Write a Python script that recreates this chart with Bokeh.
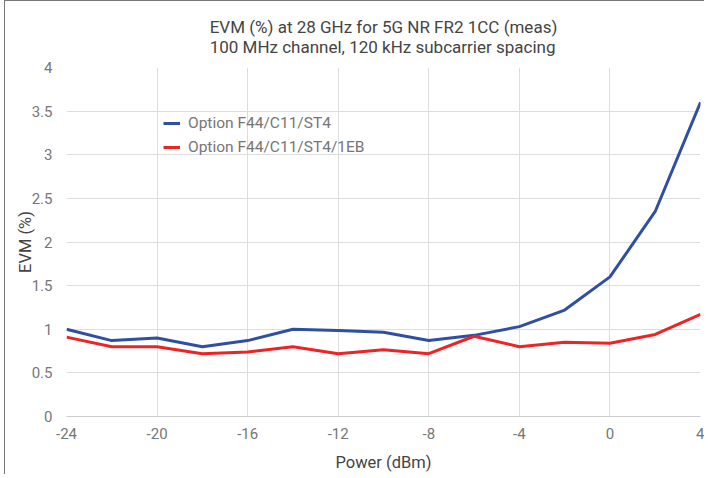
from bokeh.plotting import figure
from bokeh.models import Legend, LegendItem, FixedTicker, Range1d, Title
from bokeh.embed import file_html
from bokeh.resources import INLINE

power = [-24, -22, -20, -18, -16, -14, -12, -10, -8, -6, -4, -2, 0, 2, 4]
evm_st4 = [1.00, 0.87, 0.90, 0.80, 0.87, 1.00, 0.985, 0.965, 0.87, 0.93, 1.03, 1.22, 1.60, 2.35, 3.60]
evm_1eb = [0.91, 0.80, 0.80, 0.72, 0.74, 0.80, 0.72, 0.765, 0.72, 0.92, 0.80, 0.85, 0.84, 0.94, 1.17]
x_ticks = [-24, -20, -16, -12, -8, -4, 0, 4]
y_ticks = [0, 0.5, 1, 1.5, 2, 2.5, 3, 3.5, 4]
series_names = ["Option F44/C11/ST4", "Option F44/C11/ST4/1EB"]
title_lines = ["EVM (%) at 28 GHz for 5G NR FR2 1CC (meas)",
               "100 MHz channel, 120 kHz subcarrier spacing"]

FONT = "Roboto"

p = figure(width=700, height=474, output_backend="svg", toolbar_location=None,
           x_range=Range1d(-24, 4), y_range=Range1d(0, 4),
           min_border_left=61, min_border_right=5, min_border_top=66, min_border_bottom=59,
           styles={"border-left": "1px solid #777", "border-top": "1px solid #777",
                   "margin-left": "4px", "margin-top": "0px"})
p.outline_line_color = None
p.background_fill_color = "white"

r1 = p.line(power, evm_st4, line_color="#2f4fa2", line_width=3)
r2 = p.line(power, evm_1eb, line_color="#ee2324", line_width=3)

p.xaxis.ticker = FixedTicker(ticks=x_ticks)
p.yaxis.ticker = FixedTicker(ticks=y_ticks)
p.xaxis.major_label_overrides = {t: str(t) for t in x_ticks}
p.yaxis.major_label_overrides = {t: ("%g" % t) for t in y_ticks}
for ax in (p.xaxis, p.yaxis):
    ax.major_tick_line_color = None
    ax.minor_tick_line_color = None
    ax.major_label_text_font = FONT
    ax.major_label_text_font_size = "15px"
    ax.major_label_text_color = "#767676"
    ax.axis_label_text_font = FONT
    ax.axis_label_text_font_style = "normal"
    ax.axis_label_text_color = "#444444"
    ax.axis_label_text_font_size = "16.5px"
p.xaxis.axis_line_color = "#cccccc"
p.yaxis.axis_line_color = None
p.xaxis.major_label_standoff = 5
p.yaxis.major_label_standoff = 8
p.xaxis.axis_label = "Power (dBm)"
p.yaxis.axis_label = "EVM (%)"
p.xaxis.axis_label_standoff = 11
p.yaxis.axis_label_standoff = -6

p.xgrid.grid_line_color = "#dddddd"
p.ygrid.grid_line_color = "#dddddd"

legend = Legend(items=[LegendItem(label=series_names[0], renderers=[r1]),
                       LegendItem(label=series_names[1], renderers=[r2])],
                location=(97, 259))
legend.border_line_color = None
legend.background_fill_alpha = 0
legend.padding = 0
legend.margin = 0
legend.spacing = 4
legend.glyph_width = 17
legend.glyph_height = 20
legend.label_height = 20
legend.label_standoff = 8
legend.label_text_font = FONT
legend.label_text_font_size = "15.5px"
legend.label_text_color = "#767676"
p.add_layout(legend)

p.add_layout(Title(text="\n".join(title_lines), align="center", text_font=FONT,
                   text_font_size="17px", text_font_style="normal",
                   text_line_height=1.0, text_color="#444444", standoff=22), "above")

open("out.html", "w").write(file_html(p, INLINE))
